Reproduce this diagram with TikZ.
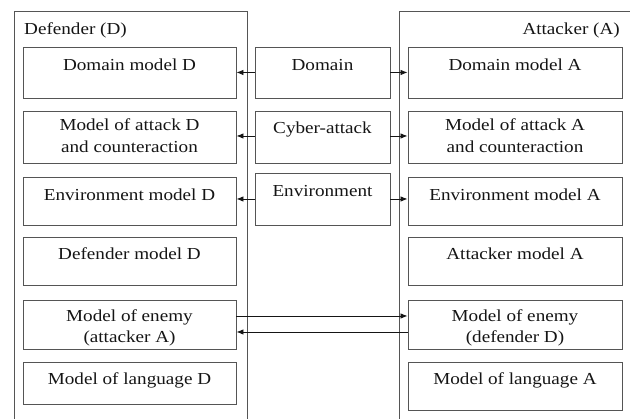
\documentclass[tikz,border=0pt]{standalone}
\usepackage{fontspec}
\setmainfont{Liberation Serif}[FakeStretch=1.14]
\usetikzlibrary{arrows.meta}
\definecolor{frm}{HTML}{555555}
\definecolor{ink}{HTML}{151515}
\begin{document}
\begin{tikzpicture}[x=1pt,y=-1pt,
  box/.style={draw=frm,line width=0.9pt,rectangle,inner sep=0pt},
  txt/.style={inner sep=0pt,anchor=base,text=ink,font=\fontsize{16.8}{22}\selectfont},
  arr/.style={draw=ink,line width=0.8pt,-{Latex[length=7pt,width=5.5pt]}}]
\useasboundingbox (0,0) rectangle (630,419);
% outer frames
\draw[frm,line width=0.9pt] (14,420) -- (14,11) -- (247,11) -- (247,420);
\draw[frm,line width=0.9pt] (399,420) -- (399,11) -- (631,11);
\node[txt,anchor=base west] (hD) at (24,35) {Defender (D)};
\node[txt,anchor=base east] (hA) at (620,35) {Attacker (A)};
% defender boxes
\node[box,minimum width=213pt,minimum height=51pt] (domD) at (129.5,72.5) {};
\node[box,minimum width=213pt,minimum height=52pt] (atkD) at (129.5,137) {};
\node[box,minimum width=213pt,minimum height=48pt] (envD) at (129.5,201) {};
\node[box,minimum width=213pt,minimum height=48pt] (defD) at (129.5,261) {};
\node[box,minimum width=213pt,minimum height=49pt] (enD) at (129.5,324.5) {};
\node[box,minimum width=213pt,minimum height=42pt] (lanD) at (129.5,383) {};
% attacker boxes
\node[box,minimum width=214pt,minimum height=51pt] (domA) at (515,72.5) {};
\node[box,minimum width=214pt,minimum height=52pt] (atkA) at (515,137) {};
\node[box,minimum width=214pt,minimum height=48pt] (envA) at (515,201) {};
\node[box,minimum width=214pt,minimum height=48pt] (attA) at (515,261) {};
\node[box,minimum width=214pt,minimum height=49pt] (enA) at (515,324.5) {};
\node[box,minimum width=214pt,minimum height=48pt] (lanA) at (515,386) {};
% middle boxes
\node[box,minimum width=135pt,minimum height=51pt] (dom) at (322.5,72.5) {};
\node[box,minimum width=135pt,minimum height=52pt] (cyb) at (322.5,137) {};
\node[box,minimum width=135pt,minimum height=52pt] (env) at (322.5,199) {};
% texts
\node[txt] (t1) at (129.5,71) {Domain model D};
\node[txt] (t2) at (129.5,131) {Model of attack D};
\node[txt] (t3) at (129.5,153) {and counteraction};
\node[txt] (t4) at (129.5,201) {Environment model D};
\node[txt] (t5) at (129.5,260) {Defender model D};
\node[txt] (t6) at (129.5,322) {Model of enemy};
\node[txt] (t7) at (129.5,343) {(attacker A)};
\node[txt] (t8) at (129.5,385) {Model of language D};
\node[txt] (u1) at (515,71) {Domain model A};
\node[txt] (u2) at (515,131) {Model of attack A};
\node[txt] (u3) at (515,153) {and counteraction};
\node[txt] (u4) at (515,201) {Environment model A};
\node[txt] (u5) at (515,260) {Attacker model A};
\node[txt] (u6) at (515,322) {Model of enemy};
\node[txt] (u7) at (515,343) {(defender D)};
\node[txt] (u8) at (515,385) {Model of language A};
\node[txt] (m1) at (322.5,71) {Domain};
\node[txt] (m2) at (322.5,134) {Cyber-attack};
\node[txt] (m3) at (322.5,197) {Environment};
% connectors
\draw[arr] (dom.west) -- (dom.west -| domD.east);
\draw[arr] (dom.east) -- (dom.east -| domA.west);
\draw[arr] ([yshift=1pt]cyb.west) -- ([yshift=1pt]cyb.west -| atkD.east);
\draw[arr] ([yshift=1pt]cyb.east) -- ([yshift=1pt]cyb.east -| atkA.west);
\draw[arr] (env.west) -- (env.west -| envD.east);
\draw[arr] (env.east) -- (env.east -| envA.west);
\draw[arr] ([yshift=8.5pt]enD.east) -- ([yshift=8.5pt]enA.west);
\draw[arr] ([yshift=-7.5pt]enA.west) -- ([yshift=-7.5pt]enD.east);
\end{tikzpicture}
\end{document}
